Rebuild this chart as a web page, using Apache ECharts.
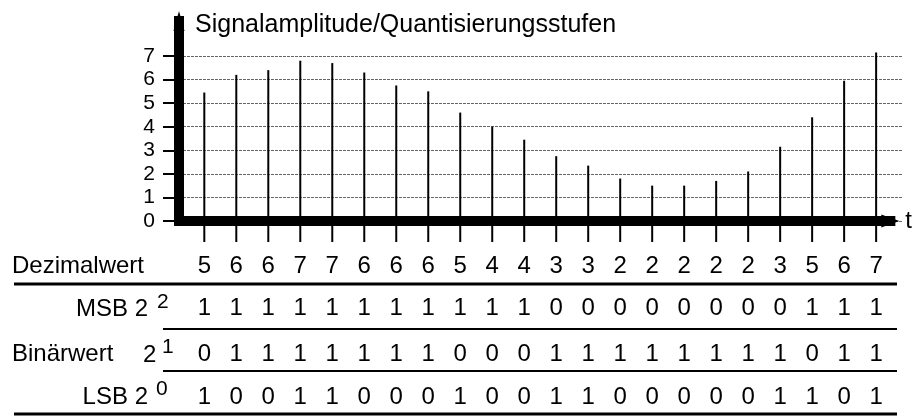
<!DOCTYPE html>
<html>
<head>
<meta charset="utf-8">
<script src="https://cdn.jsdelivr.net/npm/echarts@6/dist/echarts.min.js"></script>
<style>
  html, body { margin: 0; padding: 0; background: #fff; }
  #chart { width: 913px; height: 416px; }
</style>
</head>
<body>
<div id="chart"></div>
<script>
// Sample positions along the time axis
const samples = [1, 2, 3, 4, 5, 6, 7, 8, 9, 10, 11, 12, 13, 14, 15, 16, 17, 18, 19, 20, 21, 22];
// Sampled signal amplitude (in quantisation steps)
const amplitude = [5.45, 6.2, 6.4, 6.8, 6.7, 6.3, 5.75, 5.5, 4.6, 4.0, 3.45, 2.75, 2.35, 1.8, 1.5, 1.5, 1.7, 2.1, 3.15, 4.4, 5.95, 7.15];
// Quantised decimal value of each sample
const decimalValue = [5, 6, 6, 7, 7, 6, 6, 6, 5, 4, 4, 3, 3, 2, 2, 2, 2, 2, 3, 5, 6, 7];
// Binary code words, one row per bit
const bit2 = [1, 1, 1, 1, 1, 1, 1, 1, 1, 1, 1, 0, 0, 0, 0, 0, 0, 0, 0, 1, 1, 1];
const bit1 = [0, 1, 1, 1, 1, 1, 1, 1, 0, 0, 0, 1, 1, 1, 1, 1, 1, 1, 1, 0, 1, 1];
const bit0 = [1, 0, 0, 1, 1, 0, 0, 0, 1, 0, 0, 1, 1, 0, 0, 0, 0, 0, 1, 1, 0, 1];
// Amplitude tick labels
const levelTicks = [0, 1, 2, 3, 4, 5, 6, 7];

const FONT = 'Liberation Sans, Arial, sans-serif';
const chart = echarts.init(document.getElementById('chart'), null, { renderer: 'canvas' });

const stemData = samples.map((s, i) => [s, amplitude[i]]);
const tableData = samples.map((s, i) => [s, decimalValue[i], bit2[i], bit1[i], bit0[i]]);
const rowOffsets = [45, 87, 133, 176];

function sideLabel(text, x, y, align, size) {
  return { type: 'text', x: x, y: y, style: { text: text, fill: '#000', fontSize: size || 24, fontFamily: FONT, align: align || 'left', verticalAlign: 'middle' } };
}
function rule(x1, x2, y, w) {
  return { type: 'line', shape: { x1: x1, y1: y, x2: x2, y2: y }, style: { stroke: '#000', lineWidth: w } };
}

chart.setOption({
  animation: false,
  backgroundColor: '#fff',
  title: {
    text: 'Signalamplitude/Quantisierungsstufen',
    left: 190, top: 8,
    textStyle: { fontSize: 25, fontWeight: 'normal', color: '#000', fontFamily: FONT }
  },
  grid: [
    { left: 179, right: 10, top: 56, bottom: 195 },
    { left: 179, right: 22, top: 21, bottom: 195 }
  ],
  xAxis: [
    { gridIndex: 0, type: 'value', min: 0.209, max: 22.84, show: false },
    {
      gridIndex: 1, type: 'value', min: 0, max: 1,
      axisLine: { show: true, symbol: ['none', 'triangle'], symbolSize: [13, 18], lineStyle: { color: '#000', width: 10, cap: 'square' } },
      axisTick: { show: false }, axisLabel: { show: false }, splitLine: { show: false },
      name: 't', nameLocation: 'end', nameGap: 15,
      nameTextStyle: { fontSize: 24, color: '#000', fontFamily: FONT, verticalAlign: 'middle' }
    }
  ],
  yAxis: [
    {
      gridIndex: 0, type: 'value', min: levelTicks[0], max: levelTicks[levelTicks.length - 1], interval: 1,
      axisLine: { show: false },
      axisTick: { show: true, length: 16, lineStyle: { color: '#000', width: 2 } },
      axisLabel: { show: true, margin: 24, fontSize: 21, color: '#000', fontFamily: FONT },
      splitLine: { show: true, lineStyle: { color: '#666', width: 1, type: [3, 1] } }
    },
    {
      gridIndex: 1, type: 'value', min: 0, max: 1,
      axisLine: { show: true, symbol: ['none', 'triangle'], symbolSize: [11, 20], lineStyle: { color: '#000', width: 10, cap: 'square' } },
      axisTick: { show: false }, axisLabel: { show: false }, splitLine: { show: false }
    }
  ],
  series: [
    {
      type: 'custom', name: 'Abtastwerte', xAxisIndex: 0, yAxisIndex: 0, clip: false, z: 5,
      data: stemData,
      renderItem: function (params, api) {
        const top = api.coord([api.value(0), api.value(1)]);
        const base = api.coord([api.value(0), 0]);
        return { type: 'line', shape: { x1: top[0], y1: top[1], x2: base[0], y2: base[1] + 21 }, style: { stroke: '#000', lineWidth: 2 } };
      }
    },
    {
      type: 'custom', name: 'Codetabelle', xAxisIndex: 0, yAxisIndex: 0, clip: false,
      data: tableData,
      renderItem: function (params, api) {
        const base = api.coord([api.value(0), 0]);
        const children = [1, 2, 3, 4].map((d, k) => ({
          type: 'text',
          style: { text: String(api.value(d)), x: base[0], y: base[1] + rowOffsets[k], fill: '#000', fontSize: 24, fontFamily: FONT, align: 'center', verticalAlign: 'middle' }
        }));
        return { type: 'group', children: children };
      }
    }
  ],
  graphic: [
    sideLabel('Dezimalwert', 12, 266),
    sideLabel('MSB 2', 148, 309, 'right'),
    sideLabel('2', 157, 302, 'left', 21),
    sideLabel('Binärwert', 12, 354),
    sideLabel('2', 143, 355),
    sideLabel('1', 162, 347, 'left', 21),
    sideLabel('LSB 2', 148, 397, 'right'),
    sideLabel('0', 156, 389, 'left', 21),
    rule(14, 897, 284, 3),
    rule(163, 897, 329, 2),
    rule(163, 897, 371, 2),
    rule(14, 897, 414, 3)
  ]
});
</script>
</body>
</html>
